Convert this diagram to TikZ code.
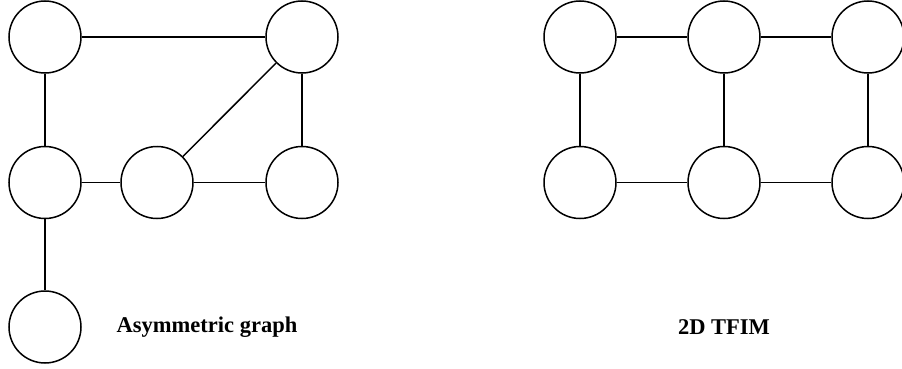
\documentclass[tikz,border=0pt]{standalone}
\usepackage{fontspec}
\setmainfont{Liberation Serif}
\begin{document}
\begin{tikzpicture}[x=1pt,y=-1pt,
  site/.style={circle,draw,line width=1.5pt,minimum size=72pt,inner sep=0pt},
  bond/.style={line width=1.5pt},
  caption/.style={font=\bfseries\fontsize{22.5}{27}\selectfont,inner sep=0pt}]
\useasboundingbox (0,0) rectangle (902,369);
% asymmetric graph
\node[site] (a1) at (45,37) {};
\node[site] (a2) at (302,37) {};
\node[site] (a3) at (45,182.5) {};
\node[site] (a4) at (157,182.5) {};
\node[site] (a5) at (302,182.5) {};
\node[site] (a6) at (45,327) {};
\draw[bond] (a1) -- (a2);
\draw[bond] (a1) -- (a3);
\draw[bond] (a2) -- (a5);
\draw[bond] (a2) -- (a4);
\draw[bond] (a3) -- (a4);
\draw[bond] (a4) -- (a5);
\draw[bond] (a3) -- (a6);
\node[caption] (lab1) at (207,327) {Asymmetric graph};
% 2x3 lattice
\node[site] (t1) at (580,37) {};
\node[site] (t2) at (724,37) {};
\node[site] (t3) at (868,37) {};
\node[site] (b1) at (580,182.5) {};
\node[site] (b2) at (724,182.5) {};
\node[site] (b3) at (868,182.5) {};
\draw[bond] (t1) -- (t2);
\draw[bond] (t2) -- (t3);
\draw[bond] (b1) -- (b2);
\draw[bond] (b2) -- (b3);
\draw[bond] (t1) -- (b1);
\draw[bond] (t2) -- (b2);
\draw[bond] (t3) -- (b3);
\node[caption] (lab2) at (724,327) {2D TFIM};
\end{tikzpicture}
\end{document}
